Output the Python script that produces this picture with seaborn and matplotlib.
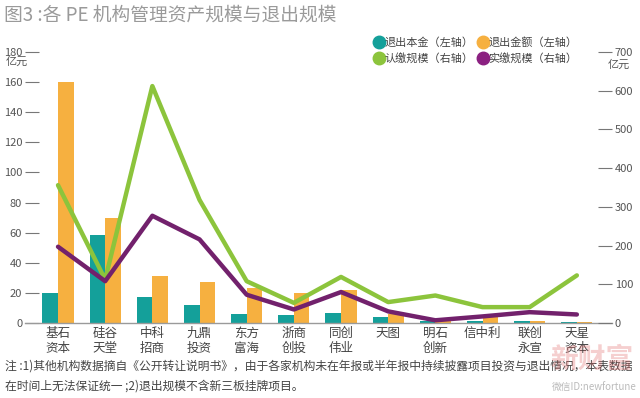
import matplotlib
matplotlib.use("Agg")
import matplotlib.pyplot as plt
from matplotlib.lines import Line2D
import numpy as np
import pandas as pd
import seaborn as sns

# данные
categories = ["基石\n资本", "硅谷\n天堂", "中科\n招商", "九鼎\n投资", "东方\n富海", "浙商\n创投",
              "同创\n伟业", "天图", "明石\n创新", "信中利", "联创\n永宣", "天星\n资本"]
exit_principal = [20, 58.5, 17, 12, 6, 5, 6.5, 3.8, 1.5, 1, 1.5, 0.5]
exit_amount = [160, 70, 31, 27, 23, 20, 22, 6, 1, 4.5, 1.5, 0.5]
subscribed = [356, 112, 612, 318, 108, 52, 119, 54, 71, 41, 41, 123]
paid_in = [197, 108, 277, 216, 73, 35, 80, 30, 7, 17, 28, 22]

left_ticks = [0, 20, 40, 60, 80, 100, 120, 140, 160, 180]
right_ticks = [0, 100, 200, 300, 400, 500, 600, 700]

TEAL = "#14a09a"
ORANGE = "#f6b040"
GREEN = "#8cc43c"
PURPLE = "#72216c"
PURPLE_LEG = "#8b2081"
GRAY = "#555555"

sns.set_style("white")
plt.rcParams["font.family"] = ["Noto Sans CJK SC", "DejaVu Sans"]

bars = pd.DataFrame({
    "cat": categories * 2,
    "value": exit_principal + exit_amount,
    "series": ["退出本金"] * len(categories) + ["退出金额"] * len(categories),
})
lines = pd.DataFrame({
    "x": np.arange(len(categories)),
    "认缴": subscribed,
    "实缴": paid_in,
})

fig = plt.figure(figsize=(6.4, 3.98), dpi=100)
ax = fig.add_axes([25 / 640, 1 - 323 / 398, 587 / 640, 271 / 398])

sns.barplot(data=bars, x="cat", y="value", hue="series",
            palette=[TEAL, ORANGE], width=0.66, ax=ax, legend=False,
            saturation=1, linewidth=0)
ax.set_xlim(-0.70, len(categories) - 1 + 0.745)
ax.set_ylim(0, 180)
ax.set_yticks(left_ticks)
ax.set_xlabel("")
ax.set_ylabel("")
for s in ["top", "right", "left"]:
    ax.spines[s].set_visible(False)
ax.spines["bottom"].set_color("#9a9a9a")
ax.spines["bottom"].set_linewidth(1)
ax.tick_params(axis="y", direction="in", length=10, width=0.8, color="#777777",
               labelsize=8, labelcolor=GRAY, pad=2)
ax.tick_params(axis="x", length=0, labelsize=9, labelcolor="#444444", pad=3)

ax2 = ax.twinx()
sns.lineplot(data=lines, x="x", y="认缴", color=GREEN, linewidth=3.2, ax=ax2)
sns.lineplot(data=lines, x="x", y="实缴", color=PURPLE, linewidth=3.2, ax=ax2)
ax2.set_ylim(0, 700)
ax2.set_yticks(right_ticks)
ax2.set_xlim(-0.70, len(categories) - 1 + 0.745)
ax2.set_ylabel("")
for s in ["top", "right", "left", "bottom"]:
    ax2.spines[s].set_visible(False)
ax2.tick_params(axis="y", direction="in", length=10, width=0.8, color="#777777",
                labelsize=8, labelcolor=GRAY, pad=2)

# подписи единиц
fig.text(6 / 640, 1 - 62 / 398, "亿元", fontsize=8, color=GRAY, va="center")
fig.text(608 / 640, 1 - 65 / 398, "亿元", fontsize=8, color=GRAY, va="center")

# легенда
handles = [
    Line2D([], [], marker="o", ls="", color=TEAL, markersize=9),
    Line2D([], [], marker="o", ls="", color=GREEN, markersize=9),
    Line2D([], [], marker="o", ls="", color=ORANGE, markersize=9),
    Line2D([], [], marker="o", ls="", color=PURPLE_LEG, markersize=9),
]
labels = ["退出本金（左轴）", "认缴规模（右轴）", "退出金额（左轴）", "实缴规模（右轴）"]
fig.legend(handles, labels, ncol=2, loc="upper left",
           bbox_to_anchor=(368 / 640, 1 - 32 / 398), frameon=False,
           fontsize=8, handletextpad=0.0, columnspacing=0.3,
           labelspacing=0.45, borderpad=0, handlelength=1.0,
           labelcolor="#444444")

# заголовок
fig.text(4 / 640, 1 - 15 / 398, "图3 :各 PE 机构管理资产规模与退出规模",
         fontsize=13.5, color="#9a9a9a", va="center")

# примечание
fig.text(5 / 640, 1 - 366 / 398,
         "注 :1)其他机构数据摘自《公开转让说明书》，由于各家机构未在年报或半年报中持续披露项目投资与退出情况，本表数据",
         fontsize=8.5, color="#444444", va="center")
fig.text(5 / 640, 1 - 386 / 398, "在时间上无法保证统一 ;2)退出规模不含新三板挂牌项目。",
         fontsize=8.5, color="#444444", va="center")

# водяной знак
fig.text(592 / 640, 1 - 360 / 398, "新财富", fontsize=20, color="#e06060",
         alpha=0.3, ha="center", va="center", fontweight="bold")
fig.text(594 / 640, 1 - 387 / 398, "微信ID:newfortune", fontsize=7,
         color="#bbbbbb", ha="center", va="center")

fig.savefig("out.png", dpi=100)
